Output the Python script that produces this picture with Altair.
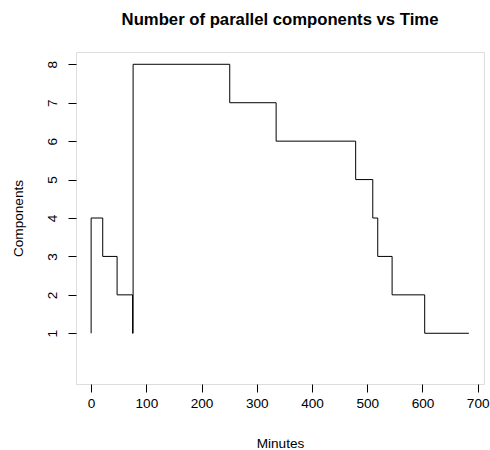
import altair as alt
import pandas as pd

minutes = [0, 0, 21, 47, 75, 76, 251, 335, 479, 510, 519, 545, 604, 684]
components = [1, 4, 3, 2, 1, 8, 7, 6, 5, 4, 3, 2, 1, 1]
x_ticks = [0, 100, 200, 300, 400, 500, 600, 700]
y_ticks = [1, 2, 3, 4, 5, 6, 7, 8]

df = pd.DataFrame({"Minutes": minutes, "Components": components, "idx": list(range(len(minutes)))})

FONT = "Liberation Sans"

chart = alt.Chart(df).mark_line(
    interpolate="step-after", color="black", strokeWidth=1
).encode(
    x=alt.X("Minutes:Q",
            scale=alt.Scale(domain=[-27.4, 711.4], nice=False, zero=False),
            axis=alt.Axis(values=x_ticks, title="Minutes", grid=False, domain=False,
                          tickSize=8, tickColor="black", labelPadding=4,
                          labelFont=FONT, labelFontSize=13.6, labelColor="black",
                          titleFont=FONT, titleFontSize=13.6, titleFontWeight="normal",
                          titleColor="black", titleBaseline="alphabetic",
                          titleX=204, titleY=63.2, titleAlign="center")),
    y=alt.Y("Components:Q",
            scale=alt.Scale(domain=[-0.32, 8.32], nice=False, zero=False),
            axis=alt.Axis(values=y_ticks, title="Components", grid=False, domain=False,
                          tickSize=8, tickColor="black", labelPadding=11.4,
                          labelAngle=270, labelAlign="center", labelBaseline="alphabetic",
                          labelFont=FONT, labelFontSize=13.6, labelColor="black",
                          titleFont=FONT, titleFontSize=13.6, titleFontWeight="normal",
                          titleColor="black", titleBaseline="alphabetic", titleAngle=270,
                          titleX=-53.5, titleY=166, titleAlign="center")),
    order="idx:Q",
).properties(
    width=408,
    height=332,
    title=alt.TitleParams("Number of parallel components vs Time", font=FONT, fontSize=16.7,
                          fontWeight="bold", color="black", anchor="middle", frame="group",
                          baseline="alphabetic", offset=10),
    autosize=alt.AutoSizeParams(type="none"),
    padding={"left": 76, "top": 52, "right": 6, "bottom": 66},
).configure_view(stroke="black", strokeWidth=1).configure(background="white")

chart.save("out.html", embed_options={"renderer": "svg", "actions": False})
